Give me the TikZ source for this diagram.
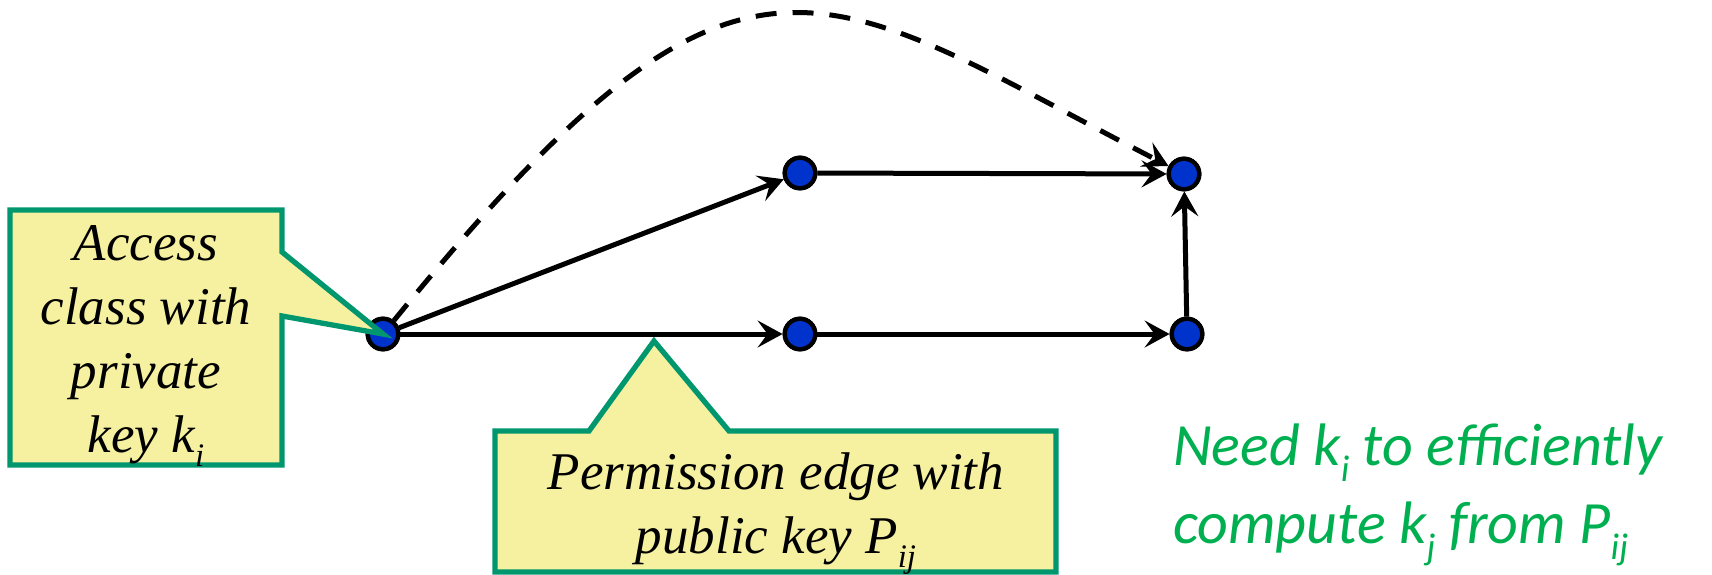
\documentclass[tikz,border=0pt]{standalone}
\usepackage{fontspec}
\usepackage{graphicx}
\setmainfont{Liberation Serif}
\newfontfamily\calib{Carlito}
\usetikzlibrary{arrows.meta}
\definecolor{nodeblue}{RGB}{0,51,204}
\definecolor{callfill}{RGB}{246,241,160}
\definecolor{callline}{RGB}{0,150,110}
\definecolor{notegreen}{RGB}{0,176,80}
\newcommand\lowsub[1]{\raisebox{-0.28em}{\scalebox{0.62}{#1}}}
\begin{document}
\begin{tikzpicture}[x=1pt,y=-1pt,
  vtx/.style={circle,fill=nodeblue,draw=black,line width=4.3pt,minimum size=30.5pt,inner sep=0pt},
  edgearrow/.style={line width=5pt,-{Stealth[length=25pt,width=27pt,inset=10pt]}},
  derived/.style={edgearrow,dash pattern=on 21pt off 16pt},
  callbox/.style={fill=callfill,draw=callline,line width=5.3pt,line join=miter},
  calltext/.style={inner sep=0pt,align=center,font=\itshape\fontsize{53}{64}\selectfont},
  notetext/.style={inner sep=0pt,align=left,text=notegreen,font=\calib\itshape\fontsize{60}{78}\selectfont}
]
\useasboundingbox (0,0) rectangle (1712,574);

\coordinate (pA) at (383,334);
\coordinate (pB) at (800,173);
\coordinate (pC) at (800,334);
\coordinate (pD) at (1184,174);
\coordinate (pE) at (1187,334);

\node[vtx] (A) at (pA) {};
\node[vtx] (B) at (pB) {};
\node[vtx] (C) at (pC) {};
\node[vtx] (D) at (pD) {};
\node[vtx] (E) at (pE) {};

\draw[edgearrow] (A) -- (B);
\draw[edgearrow] (A) -- (C);
\draw[edgearrow] (B) -- (D);
\draw[edgearrow] (C) -- (E);
\draw[edgearrow] (E) -- (D);
\draw[derived] (A) .. controls (744,-110) and (817,-15) .. (D);

% redraw nodes on top of the edge ends
\foreach \p in {pA,pB,pC,pD,pE} \node[vtx] at (\p) {};

% left callout
\draw[callbox] (10,210) -- (282,210) -- (282,252) -- (A.center) -- (282,316) -- (282,465) -- (10,465) -- cycle;
\node[calltext,anchor=base] (acc) at (146,452) {Access\\class with\\private\\key k\lowsub{i}};

% bottom callout
\draw[callbox] (495,431) -- (589,431) -- (654,341) -- (729,431) -- (1056,431) -- (1056,572) -- (495,572) -- cycle;
\node[calltext,anchor=base] (perm) at (776,553) {Permission edge with\\public key P\lowsub{ij}};

% note
\node[notetext,anchor=base west] (note) at (1173,543) {Need k\lowsub{i} to efficiently\\compute k\lowsub{j} from P\lowsub{ij}};
\end{tikzpicture}
\end{document}
